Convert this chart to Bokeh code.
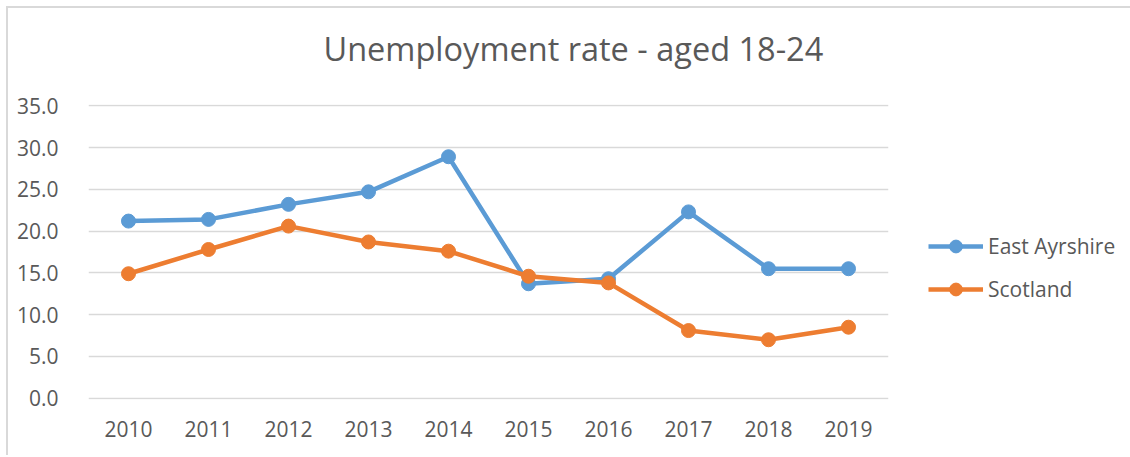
from bokeh.plotting import figure
from bokeh.models import Legend, LegendItem, NumeralTickFormatter, FixedTicker, Range1d, Title
from bokeh.embed import file_html
from bokeh.resources import INLINE

years = ["2010", "2011", "2012", "2013", "2014", "2015", "2016", "2017", "2018", "2019"]
east_ayrshire = [21.2, 21.4, 23.2, 24.7, 28.9, 13.7, 14.3, 22.3, 15.5, 15.5]
scotland = [14.9, 17.8, 20.6, 18.7, 17.6, 14.6, 13.8, 8.1, 7.0, 8.5]
y_ticks = [0, 5, 10, 15, 20, 25, 30, 35]

FONT = "Open Sans"
TXT = "#595959"
BLUE = "#5B9BD5"
ORANGE = "#ED7D31"

p = figure(x_range=years, y_range=Range1d(-0.15, 35.15), frame_width=800, frame_height=295,
           output_backend="svg", toolbar_location=None,
           min_border_left=80, min_border_right=230, min_border_top=96, min_border_bottom=56)
p.title = Title(text="Unemployment rate - aged 18-24", align="left", offset=235,
                vertical_align="bottom",
                text_font=FONT, text_font_size="32.5px", text_font_style="normal",
                text_color=TXT, standoff=0)
# blank spacer between the title and the plot area
p.add_layout(Title(text=" ", text_font_size="1px", standoff=31), "above")

p.outline_line_color = None
p.xgrid.grid_line_color = None
p.ygrid.grid_line_color = "#d9d9d9"
p.ygrid.grid_line_width = 1.5
p.yaxis.ticker = FixedTicker(ticks=y_ticks)
p.yaxis.formatter = NumeralTickFormatter(format="0.0")
for ax in (p.xaxis, p.yaxis):
    ax.axis_line_color = None
    ax.major_tick_line_color = None
    ax.minor_tick_line_color = None
    ax.major_label_text_font = FONT
    ax.major_label_text_font_size = "21px"
    ax.major_label_text_color = TXT
p.yaxis.major_label_standoff = 24
p.xaxis.major_label_standoff = 15

r1 = p.line(years, east_ayrshire, line_color=BLUE, line_width=4.5)
c1 = p.scatter(years, east_ayrshire, size=14, fill_color=BLUE, line_color=BLUE)
r2 = p.line(years, scotland, line_color=ORANGE, line_width=4.5)
c2 = p.scatter(years, scotland, size=14, fill_color=ORANGE, line_color=ORANGE)

legend = Legend(items=[LegendItem(label="East Ayrshire", renderers=[r1, c1]),
                       LegendItem(label="Scotland", renderers=[r2, c2])],
                location=(40, 94), orientation="vertical",
                glyph_width=55, glyph_height=32, label_height=20, spacing=11,
                padding=0, margin=0, label_standoff=5,
                label_text_font=FONT, label_text_font_size="21px", label_text_color=TXT,
                border_line_color=None, background_fill_alpha=0)
p.add_layout(legend, "right")

p.styles = {"margin": "6px 0 0 6px", "border-left": "2px solid #d9d9d9",
            "border-top": "2px solid #d9d9d9"}

open("out.html", "w").write(file_html(p, INLINE))
